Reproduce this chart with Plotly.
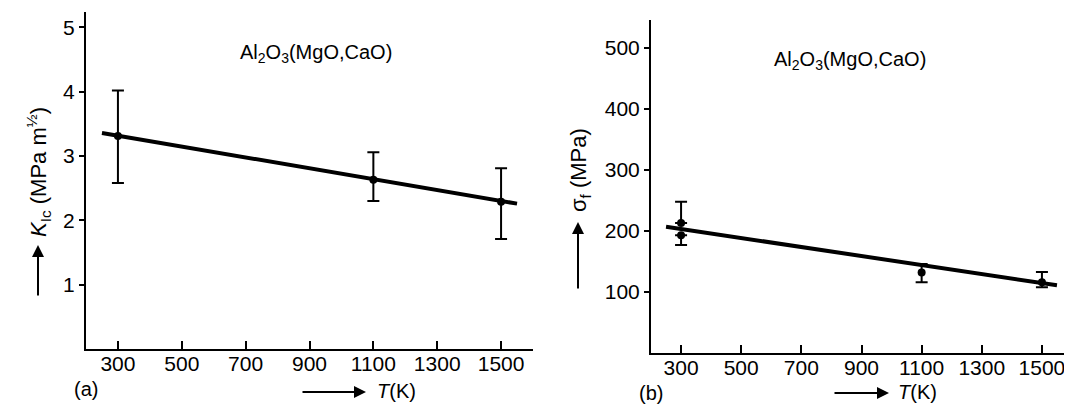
import plotly.graph_objects as go

# ---- data (panel a: fracture toughness) ----
T_a = [300, 1100, 1500]
K_a = [3.31, 2.63, 2.29]
K_a_plus = [0.71, 0.43, 0.52]
K_a_minus = [0.73, 0.33, 0.58]
T_fit_a = [250, 1550]
K_fit_a = [3.36, 2.26]

# ---- data (panel b: fracture strength) ----
T_b = [300, 300, 1100, 1500]
S_b = [213, 193, 132, 116]
S_b_plus = [35, 0, 14, 17]
S_b_minus = [0, 16, 16, 8]
T_fit_b = [250, 1550]
S_fit_b = [207, 111]

x_ticks = [300, 500, 700, 900, 1100, 1300, 1500]
ya_ticks = [1, 2, 3, 4, 5]
yb_ticks = [100, 200, 300, 400, 500]

FONT = "Liberation Sans"
OFF = 8  # page body margin
W, H = 1072 - OFF, 405 - OFF

def px(x):
    return (x - OFF) / W

def py(y):
    return 1 - (y - OFF) / H

fig = go.Figure()

# panel a
fig.add_trace(go.Scatter(x=T_fit_a, y=K_fit_a, mode="lines",
                         line=dict(color="black", width=4),
                         xaxis="x", yaxis="y", showlegend=False))
fig.add_trace(go.Scatter(x=T_a, y=K_a, mode="markers",
                         marker=dict(color="black", size=8),
                         error_y=dict(type="data", array=K_a_plus, arrayminus=K_a_minus,
                                      symmetric=False, color="black", thickness=2, width=6),
                         xaxis="x", yaxis="y", showlegend=False))

# panel b
fig.add_trace(go.Scatter(x=T_fit_b, y=S_fit_b, mode="lines",
                         line=dict(color="black", width=4),
                         xaxis="x2", yaxis="y2", showlegend=False))
fig.add_trace(go.Scatter(x=T_b, y=S_b, mode="markers",
                         marker=dict(color="black", size=8),
                         error_y=dict(type="data", array=S_b_plus, arrayminus=S_b_minus,
                                      symmetric=False, color="black", thickness=2, width=6),
                         xaxis="x2", yaxis="y2", showlegend=False))

tickfont = dict(family=FONT, size=21, color="black")
xcommon = dict(range=[200, 1600], tickvals=x_ticks, ticks="inside", ticklen=8, tickwidth=2,
               tickcolor="black", showline=True, linecolor="black", linewidth=2,
               showgrid=False, zeroline=False, tickfont=tickfont, ticklabelstandoff=-5)
ycommon = dict(ticks="outside", ticklen=5, tickwidth=2, tickcolor="black", showline=True,
               linecolor="black", linewidth=2, showgrid=False, zeroline=False, tickfont=tickfont)

fig.update_layout(
    width=W, height=H,
    margin=dict(l=0, r=0, t=0, b=0),
    paper_bgcolor="white", plot_bgcolor="white",
    xaxis=dict(domain=[px(86), px(533)], anchor="y", **xcommon),
    yaxis=dict(domain=[py(349), py(12)], range=[0, 5.24], tickvals=ya_ticks, anchor="x", **ycommon),
    xaxis2=dict(domain=[px(651), 1.0], anchor="y2", **xcommon),
    yaxis2=dict(domain=[py(353), py(20)], range=[0, 546], tickvals=yb_ticks, anchor="x2", **ycommon),
)

lab = dict(family=FONT, size=20, color="black")
big = dict(family=FONT, size=22, color="black")
ann = []

def text(x, y, t, font, angle=0):
    ann.append(dict(x=px(x), y=py(y), xref="paper", yref="paper", showarrow=False,
                    xanchor="center", yanchor="middle", textangle=angle, text=t, font=font))

def arrow(x, y, ax, ay):
    ann.append(dict(x=px(x), y=py(y), xref="paper", yref="paper", showarrow=True, text="",
                    ax=ax, ay=ay, arrowhead=2, arrowsize=1.2, arrowwidth=2, arrowcolor="black"))

# compound labels
text(316, 53, "Al<sub>2</sub>O<sub>3</sub>(MgO,CaO)", lab)
text(850, 60, "Al<sub>2</sub>O<sub>3</sub>(MgO,CaO)", lab)
# y titles
text(38, 172, "<i>K</i><sub>Ic</sub> (MPa m<sup>½</sup>)", big, -90)
text(580, 170, "σ<sub>f</sub> (MPa)", big, -90)
# y arrows
arrow(38, 245, 0, 52)
arrow(578, 222, 0, 68)
# x titles
text(396, 391, "<i>T</i>(K)", lab)
text(917, 392, "<i>T</i>(K)", lab)
arrow(366, 392, -65, 0)
arrow(889, 393, -56, 0)
# panel letters
text(86, 389, "(a)", lab)
text(651, 393, "(b)", lab)
fig.update_layout(annotations=ann)

fig.write_html("out.html")
